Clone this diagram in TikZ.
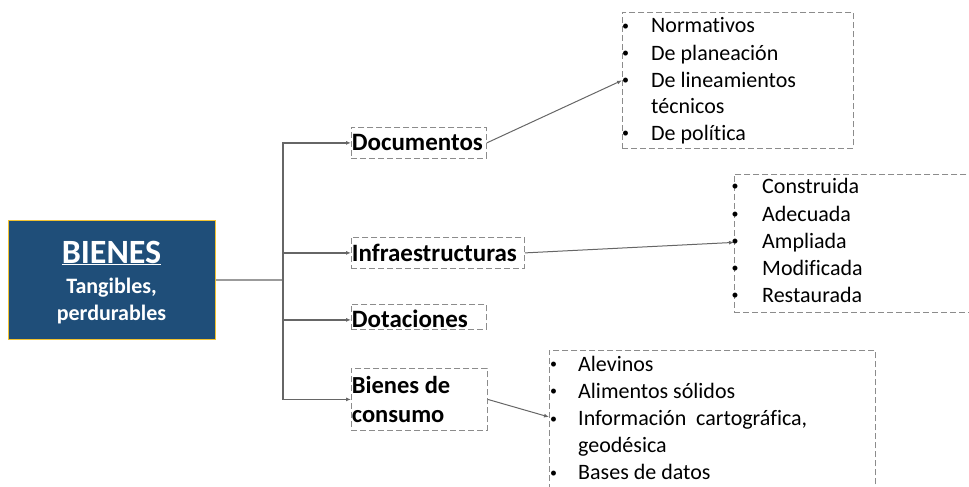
\documentclass[tikz,border=0pt]{standalone}
\usepackage{fontspec}
\setmainfont{Carlito}[Ligatures={NoCommon}]
\usetikzlibrary{arrows.meta}
\definecolor{navy}{HTML}{1F4E79}
\definecolor{goldline}{HTML}{F2C230}
\definecolor{conncol}{HTML}{666666}
\definecolor{dashgray}{HTML}{8C8C8C}
\newcommand\itembul[1]{\makebox[0pt]{\raisebox{2.4pt}{\fontsize{14}{14}\selectfont •}}\hspace{#1}}
\begin{document}
\begin{tikzpicture}[x=1pt,y=-1pt,
  box/.style={draw=dashgray, dash pattern=on 6pt off 3pt, line width=0.8pt, inner sep=0pt, anchor=north west},
  lbl/.style={box, inner xsep=0.5pt, align=left},
  lblfont/.style={font=\fontsize{25}{29}\selectfont\bfseries},
  item/.style={anchor=base west, inner sep=0pt, font=\fontsize{22}{27}\selectfont},
  wtext/.style={anchor=base, inner sep=0pt, text=white},
  line/.style={draw=conncol, line width=1.2pt},
  arr/.style={line, -{Latex[length=5pt,width=4pt]}},
  darr/.style={draw=conncol, line width=1pt, -{Latex[length=5pt,width=4pt]}},
]
\useasboundingbox (0,0) rectangle (969,487);
\clip (0,0) rectangle (969,487);

% main box
\node[draw=goldline, fill=navy, line width=0.8pt, minimum width=207pt, minimum height=119pt,
      anchor=north west, inner sep=0pt] (bienes) at (8,220) {};
\node[wtext, font=\fontsize{34}{40}\selectfont\bfseries] (t1) at (111.5,263) {\underline{BIENES}};
\node[wtext, font=\fontsize{22}{27}\selectfont\bfseries] (t2) at (111.5,293) {Tangibles,};
\node[wtext, font=\fontsize{22}{27}\selectfont\bfseries] (t3) at (111.5,320) {perdurables};

% category boxes
\node[lbl, lblfont, minimum width=135pt, minimum height=31pt, text width=134pt] (doc) at (351,127) {Documentos};
\node[lbl, lblfont, minimum width=173pt, minimum height=31pt, text width=172pt] (inf) at (351,237) {Infraestructuras};
\node[lbl, lblfont, minimum width=135pt, minimum height=25pt, text width=134pt, text height=22pt, text depth=0pt] (dot) at (351,304) {Dotaciones};
\node[lbl, font=\fontsize{24.5}{29}\selectfont\bfseries, minimum width=136pt, minimum height=62pt, text width=135pt] (bc) at (351,368) {Bienes\hspace{5.6pt}de\\consumo};

% list boxes
\node[box, minimum width=231pt, minimum height=136pt] (dlist) at (622,12) {};
\node[box, minimum width=245pt, minimum height=138pt] (ilist) at (734,174) {};
\node[box, minimum width=326pt, minimum height=150pt] (blist) at (549,350) {};

% list texts
\node[item] (d1) at (625.5,33) {\itembul{25.5pt}Normativos};
\node[item] (d2) at (625.5,60) {\itembul{25.5pt}De planeación};
\node[item] (d3) at (625.5,87) {\itembul{25.5pt}De lineamientos};
\node[item] (d4) at (651,113) {técnicos};
\node[item] (d5) at (625.5,140) {\itembul{25.5pt}De política};

\node[item] (i1) at (735,193) {\itembul{27pt}Construida};
\node[item] (i2) at (735,221) {\itembul{27pt}Adecuada};
\node[item] (i3) at (735,248) {\itembul{27pt}Ampliada};
\node[item] (i4) at (735,275) {\itembul{27pt}Modificada};
\node[item] (i5) at (735,302) {\itembul{27pt}Restaurada};

\node[item] (b1) at (553.5,371) {\itembul{24.5pt}Alevinos};
\node[item] (b2) at (553.5,398.2) {\itembul{24.5pt}Alimentos sólidos};
\node[item] (b3) at (553.5,425.4) {\itembul{24.5pt}Información~ cartográfica,};
\node[item] (b4) at (578,452.6) {geodésica};
\node[item] (b5) at (553.5,479.8) {\itembul{24.5pt}Bases de datos};

% connectors
\coordinate (trunk) at (283,280);
\draw[line] (bienes.east) -- (trunk);
\draw[arr] (trunk) |- (doc.west);
\draw[arr] (trunk) |- (inf.west);
\draw[arr] (trunk) |- ([yshift=-3pt]dot.west);
\draw[arr] (trunk) |- (bc.west);

\draw[darr] (doc.east) -- (dlist.west);
\draw[darr] (inf.east) -- ([yshift=1pt]ilist.west);
\draw[darr] (bc.east) -- ([yshift=-67pt]blist.north west);
\end{tikzpicture}
\end{document}
